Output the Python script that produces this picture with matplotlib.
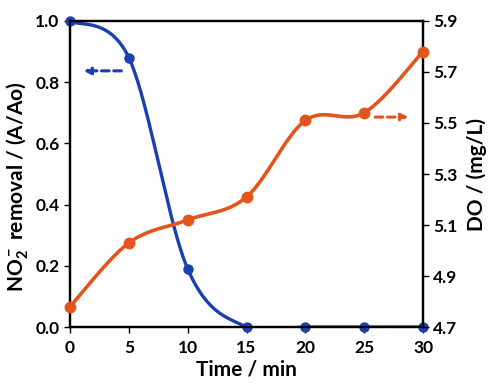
import matplotlib
matplotlib.use("Agg")
import matplotlib.pyplot as plt
import numpy as np

# data
time = [0, 5, 10, 15, 20, 25, 30]
no2_removal = [1.0, 0.88, 0.19, 0.0, 0.0, 0.0, 0.0]
do_mgl = [4.78, 5.03, 5.12, 5.21, 5.51, 5.54, 5.78]

blue = '#1a3fae'
orange = '#e2561b'

plt.rcParams['font.family'] = ['Lato', 'DejaVu Sans']
plt.rcParams['font.weight'] = 'bold'
plt.rcParams['mathtext.fontset'] = 'custom'
plt.rcParams['mathtext.rm'] = 'Lato:bold'
plt.rcParams['mathtext.it'] = 'Lato:bold'


def smooth(x, y, xlim, ylim, n=40):
    # excel style smoothed line (catmull-rom bezier), done in axes fractions
    x = (np.asarray(x, float) - xlim[0]) / (xlim[1] - xlim[0])
    y = (np.asarray(y, float) - ylim[0]) / (ylim[1] - ylim[0])
    P = np.column_stack([x, y])
    P = np.vstack([P[0], P, P[-1]])
    t = np.linspace(0, 1, n)[:, None]
    out = []
    for i in range(1, len(P) - 2):
        p0, p3 = P[i], P[i + 1]
        p1 = p0 + (P[i + 1] - P[i - 1]) / 6
        p2 = p3 - (P[i + 2] - P[i]) / 6
        seg = (1 - t)**3 * p0 + 3 * (1 - t)**2 * t * p1 + 3 * (1 - t) * t**2 * p2 + t**3 * p3
        out.append(seg)
    out = np.vstack(out)
    return (out[:, 0] * (xlim[1] - xlim[0]) + xlim[0],
            out[:, 1] * (ylim[1] - ylim[0]) + ylim[0])


fig = plt.figure(figsize=(4.91, 3.88), dpi=100)
ax = fig.add_axes([0.1426, 0.157, 0.719, 0.789])
ax2 = ax.twinx()

xlim = (0, 30)
ylim1 = (0, 1.0)
ylim2 = (4.7, 5.9)

sx, sy = smooth(time, no2_removal, xlim, ylim1)
ax.plot(sx, sy, color=blue, lw=2.4)
ax.plot(time, no2_removal, 'o', color=blue, ms=6.5, clip_on=False, zorder=5)

sx, sy = smooth(time, do_mgl, xlim, ylim2)
ax2.plot(sx, sy, color=orange, lw=2.6)
ax2.plot(time, do_mgl, 'o', color=orange, ms=7.5, clip_on=False, zorder=5)

ax.set_xlim(*xlim)
ax.set_ylim(*ylim1)
ax2.set_ylim(*ylim2)
ax.set_xticks(time)
ax.set_yticks(np.arange(0, 1.01, 0.2))
ax.set_yticklabels([f'{v:.1f}' for v in np.arange(0, 1.01, 0.2)])
ax2.set_yticks(np.arange(4.7, 5.91, 0.2))
ax2.set_yticklabels([f'{v:.1f}' for v in np.arange(4.7, 5.91, 0.2)])

for a in (ax, ax2):
    for s in a.spines.values():
        s.set_linewidth(1.6)
    a.tick_params(labelsize=12.5, width=1, length=4)
ax.tick_params(axis='x', pad=5)

ax.set_xlabel('Time / min', fontsize=15, fontweight='bold', labelpad=3)
ax.set_ylabel(r'NO$_2^-$ removal / (A/Ao)', fontsize=15, fontweight='bold')
ax.yaxis.set_label_coords(-0.11, 0.46)
ax2.set_ylabel('DO / (mg/L)', fontsize=15, fontweight='bold', labelpad=6)

ax.annotate('', xy=(0.9, 0.837), xytext=(4.6, 0.837),
            arrowprops=dict(arrowstyle='-|>', color=blue, lw=2.2, ls=(0, (2.5, 1.5)),
                            mutation_scale=10))
ax.annotate('', xy=(29.0, 0.686), xytext=(25.7, 0.686),
            arrowprops=dict(arrowstyle='-|>', color=orange, lw=2.2, ls=(0, (2.5, 1.5)),
                            mutation_scale=10))

fig.savefig('out.png', dpi=100)
